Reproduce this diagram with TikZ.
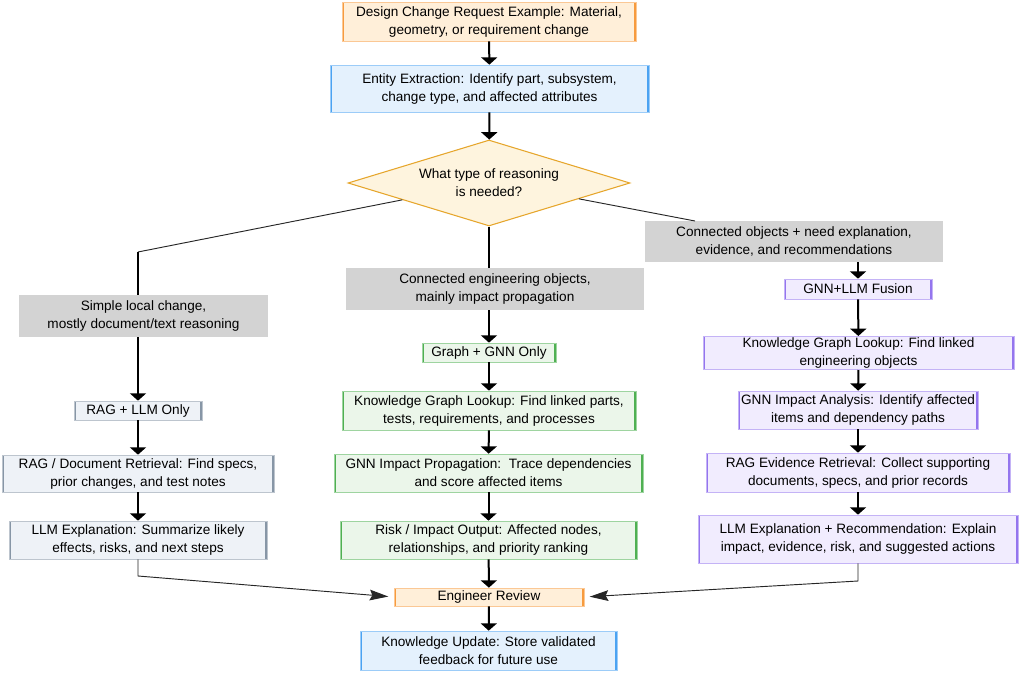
\documentclass[tikz,border=0pt]{standalone}
\usepackage{fontspec}
\setmainfont{Liberation Sans}
\usetikzlibrary{arrows.meta,shapes.geometric}

\definecolor{orfill}{HTML}{FFEFD9}
\definecolor{ordraw}{HTML}{F79B3E}
\definecolor{blfill}{HTML}{E4F1FD}
\definecolor{bldraw}{HTML}{4BA3F2}
\definecolor{dmfill}{HTML}{FEF4DE}
\definecolor{dmdraw}{HTML}{E6A62C}
\definecolor{lblgray}{HTML}{D3D3D3}
\definecolor{rgfill}{HTML}{EEF2F7}
\definecolor{rgdraw}{HTML}{8796A6}
\definecolor{gnfill}{HTML}{EBF6EA}
\definecolor{gndraw}{HTML}{4FB052}
\definecolor{pufill}{HTML}{F1ECFE}
\definecolor{pudraw}{HTML}{9475EE}

\begin{document}
\begin{tikzpicture}[
  x=0.75pt, y=-0.75pt,
  font=\fontsize{10.2}{13.5}\selectfont,
  sz/.style 2 args={minimum width=#1*0.75pt, minimum height=#2*0.75pt},
  box/.style 2 args={
    rectangle, inner sep=1pt, align=center,
    fill=#1, draw=#2!55, line width=0.5pt,
    path picture={\draw[#2, line width=3pt]
      (path picture bounding box.north west) -- (path picture bounding box.south west)
      (path picture bounding box.north east) -- (path picture bounding box.south east);}
  },
  orbox/.style={box={orfill}{ordraw}},
  blbox/.style={box={blfill}{bldraw}},
  rgbox/.style={box={rgfill}{rgdraw}},
  gnbox/.style={box={gnfill}{gndraw}},
  pubox/.style={box={pufill}{pudraw}},
  decision/.style={diamond, aspect=3.3, inner sep=0pt, align=center,
    fill=dmfill, draw=dmdraw, line width=0.8pt},
  branch/.style={rectangle, fill=lblgray, align=center, inner sep=1pt},
  flow/.style={-{Triangle[width=12pt,length=5.5pt]}, line width=1.5pt},
  trunk/.style={line width=1.5pt},
  thinline/.style={line width=0.7pt, black!85},
  merge/.style={-{Stealth[length=14pt,width=8pt,inset=2pt]}, line width=0.7pt, black!85, shorten >=4pt},
]
\useasboundingbox (0,0) rectangle (1024,673);

%% Top of the flow
\node[orbox, sz={294}{39}] (req) at (489,21.5)
  {Design Change Request Example: Material,\\geometry, or requirement change};
\node[blbox, sz={319}{47}] (extract) at (489.5,88.5)
  {Entity Extraction: Identify part, subsystem,\\change type, and affected attributes};
\node[decision, sz={282}{86}] (reason) at (489,183)
  {What type of reasoning\\is needed?};

%% Branch labels
\node[branch, sz={249}{42}] (lblleft) at (143.5,316)
  {Simple local change,\\mostly document/text reasoning};
\node[branch, sz={298}{42}] (lblmid) at (495,289)
  {Connected engineering objects,\\mainly impact propagation};
\node[branch, sz={298}{41}] (lblright) at (794,241.5)
  {Connected objects + need explanation,\\evidence, and recommendations};

%% Left column: RAG + LLM
\node[rgbox, sz={128}{19}] (ragonly) at (138,410.5) {RAG + LLM Only};
\node[rgbox, sz={272}{37}] (ragdoc) at (138,473.5)
  {RAG / Document Retrieval: Find specs,\\prior changes, and test notes};
\node[rgbox, sz={258}{38}] (llmexp) at (138,540)
  {LLM Explanation: Summarize likely\\effects, risks, and next steps};

%% Middle column: Graph + GNN
\node[gnbox, sz={134}{19}] (gnnonly) at (489,352.5) {Graph + GNN Only};
\node[gnbox, sz={294}{39}] (kgparts) at (489,410.5)
  {Knowledge Graph Lookup: Find linked parts,\\tests, requirements, and processes};
\node[gnbox, sz={309}{38}] (gnnprop) at (488.5,473)
  {GNN Impact Propagation:\ \ Trace dependencies\\and score affected items};
\node[gnbox, sz={297}{38}] (riskout) at (488.5,540)
  {Risk / Impact Output: Affected nodes,\\relationships, and priority ranking};

%% Right column: GNN+LLM fusion
\node[pubox, sz={148}{20}] (fusion) at (858,289) {GNN+LLM Fusion};
\node[pubox, sz={311}{30}] (kgobj) at (858.5,353)
  {Knowledge Graph Lookup: Find linked\\engineering objects};
\node[pubox, sz={240}{38}] (gnnana) at (858,410)
  {GNN Impact Analysis: Identify affected\\items and dependency paths};
\node[pubox, sz={304}{39}] (ragevid) at (858,472.5)
  {RAG Evidence Retrieval: Collect supporting\\documents, specs, and prior records};
\node[pubox, sz={320}{48}] (llmrec) at (858,539)
  {LLM Explanation + Recommendation: Explain\\impact, evidence, risk, and suggested actions};

%% Bottom
\node[orbox, sz={190}{18}] (review) at (489,597) {Engineer Review};
\node[blbox, sz={257}{39}] (update) at (488.5,650.5)
  {Knowledge Update: Store validated\\feedback for future use};

%% Bend points
\coordinate (bendleft) at (138,252);
\coordinate (bendright) at (695,221);
\coordinate (dropleft) at (138,576);
\coordinate (dropright) at (858,581);

%% Connectors
\draw[flow] (req) -- (extract);
\draw[flow] (extract) -- (reason);

\draw[thinline] (reason.191) -- (bendleft);
\draw[trunk] (bendleft) -- (bendleft |- lblleft.north);
\draw[flow] (bendleft |- lblleft.south) -- (ragonly);
\draw[trunk] (reason.south) -- (reason.south |- lblmid.north);
\draw[flow] (reason.south |- lblmid.south) -- (gnnonly);
\draw[thinline] (reason.350) -- (bendright);
\draw[flow] (fusion.north |- lblright.south) -- (fusion);

\draw[flow] (ragonly) -- (ragdoc);
\draw[flow] (ragdoc) -- (llmexp);
\draw[flow] (gnnonly) -- (kgparts);
\draw[flow] (kgparts) -- (gnnprop);
\draw[flow] (gnnprop) -- (riskout);
\draw[flow] (fusion) -- (kgobj);
\draw[flow] (kgobj) -- (gnnana);
\draw[flow] (gnnana) -- (ragevid);
\draw[flow] (ragevid) -- (llmrec);

\draw[merge] (llmexp.south) -- (dropleft) -- (review.west);
\draw[merge] (llmrec.south) -- (dropright) -- (review.east);
\draw[flow] (riskout) -- (review);
\draw[flow] (review) -- (update);

\end{tikzpicture}
\end{document}
